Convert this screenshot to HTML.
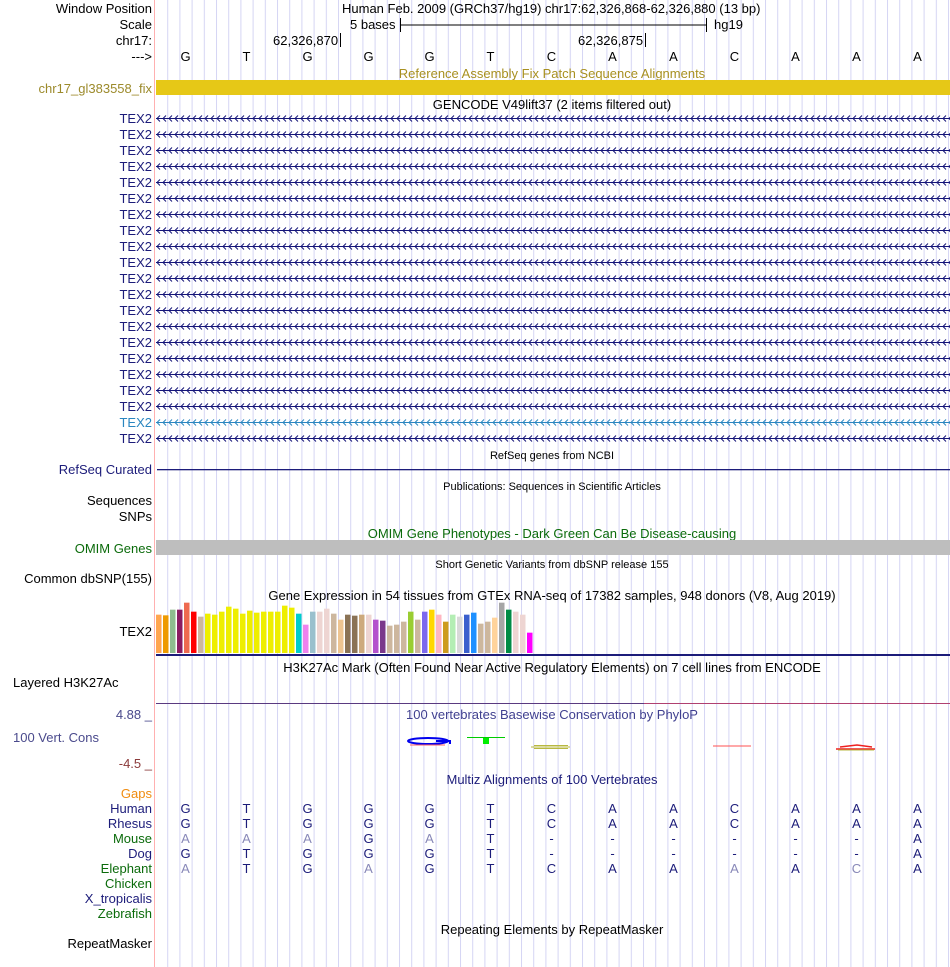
<!DOCTYPE html>
<html><head><meta charset="utf-8"><style>
html,body{margin:0;padding:0;background:#fff;}
svg{display:block;font-family:"Liberation Sans",Arial,sans-serif;}
.l{font-size:13px;text-anchor:end;}
.c{font-size:13px;text-anchor:middle;}
.s{font-size:11px;text-anchor:middle;}
.nv{fill:#1c1c7a;}
.gr{fill:#0b6b0b;}
</style></head><body>
<svg width="950" height="967" viewBox="0 0 950 967" xmlns="http://www.w3.org/2000/svg">
<defs>
<pattern id="grid" x="155" y="0" width="12.2" height="967" patternUnits="userSpaceOnUse">
<rect x="0" y="0" width="1" height="967" fill="#d6d6f4"/>
</pattern>
<pattern id="chev" x="0" y="0" width="6" height="16" patternUnits="userSpaceOnUse">
<path d="M0,6.5H6M4,3.5L1,6.5L4,9.5" stroke="#141478" stroke-width="1" fill="none"/>
</pattern>
<pattern id="chevb" x="0" y="0" width="6" height="16" patternUnits="userSpaceOnUse">
<path d="M0,6.5H6M4,3.5L1,6.5L4,9.5" stroke="#2a86c0" stroke-width="1" fill="none"/>
</pattern>
</defs>
<rect x="156" y="0" width="794" height="967" fill="url(#grid)"/>
<rect x="154" y="0" width="1" height="967" fill="#ffb0b0"/>

<!-- header -->
<text class="l" x="152" y="13">Window Position</text>
<text x="342" y="13" font-size="13">Human Feb. 2009 (GRCh37/hg19)   chr17:62,326,868-62,326,880 (13 bp)</text>
<text class="l" x="152" y="29">Scale</text>
<text x="350" y="29" font-size="13">5 bases</text>
<path d="M400.5,18V32M400,25H706M706.5,18V32" stroke="#000" fill="none"/>
<text x="714" y="29" font-size="13">hg19</text>
<text class="l" x="152" y="45">chr17:</text>
<text x="273" y="45" font-size="13">62,326,870</text>
<path d="M340.5,33V47M645.5,33V47" stroke="#000"/>
<text x="578" y="45" font-size="13">62,326,875</text>
<text class="l" x="152" y="61">---&gt;</text>
<g class="c" font-size="13">
<text x="185.5" y="61">G</text><text x="246.5" y="61">T</text><text x="307.5" y="61">G</text><text x="368.5" y="61">G</text><text x="429.5" y="61">G</text><text x="490.5" y="61">T</text><text x="551.5" y="61">C</text><text x="612.5" y="61">A</text><text x="673.5" y="61">A</text><text x="734.5" y="61">C</text><text x="795.5" y="61">A</text><text x="856.5" y="61">A</text><text x="917.5" y="61">A</text>
</g>
<text class="c" x="552" y="78" fill="#a89020">Reference Assembly Fix Patch Sequence Alignments</text>
<rect x="156" y="80" width="794" height="15" fill="#e6c817"/>
<text class="l" x="152" y="93" fill="#9c8a2b">chr17_gl383558_fix</text>
<text class="c" x="552" y="109">GENCODE V49lift37 (2 items filtered out)</text>

<!-- TEX2 rows -->
<rect x="156" y="112" width="794" height="304" fill="url(#chev)"/>
<rect x="156" y="416" width="794" height="16" fill="url(#chevb)"/>
<rect x="156" y="432" width="794" height="14" fill="url(#chev)"/>
<g class="l nv">
<text x="152" y="123">TEX2</text><text x="152" y="139">TEX2</text><text x="152" y="155">TEX2</text><text x="152" y="171">TEX2</text><text x="152" y="187">TEX2</text><text x="152" y="203">TEX2</text><text x="152" y="219">TEX2</text><text x="152" y="235">TEX2</text><text x="152" y="251">TEX2</text><text x="152" y="267">TEX2</text><text x="152" y="283">TEX2</text><text x="152" y="299">TEX2</text><text x="152" y="315">TEX2</text><text x="152" y="331">TEX2</text><text x="152" y="347">TEX2</text><text x="152" y="363">TEX2</text><text x="152" y="379">TEX2</text><text x="152" y="395">TEX2</text><text x="152" y="411">TEX2</text><text x="152" y="427" fill="#2a86c0">TEX2</text><text x="152" y="443">TEX2</text>
</g>

<text class="s" x="552" y="459">RefSeq genes from NCBI</text>
<text class="l nv" x="152" y="474">RefSeq Curated</text>
<rect x="157" y="469" width="793" height="1.3" fill="#1c1c7a"/>
<text class="s" x="552" y="490">Publications: Sequences in Scientific Articles</text>
<text class="l" x="152" y="505">Sequences</text>
<text class="l" x="152" y="521">SNPs</text>
<text class="c gr" x="552" y="538">OMIM Gene Phenotypes - Dark Green Can Be Disease-causing</text>
<rect x="156" y="540" width="794" height="15" fill="#bebebe"/>
<text class="l gr" x="152" y="553">OMIM Genes</text>
<text class="s" x="552" y="568">Short Genetic Variants from dbSNP release 155</text>
<text class="l" x="152" y="583">Common dbSNP(155)</text>
<text class="c" x="552" y="600">Gene Expression in 54 tissues from GTEx RNA-seq of 17382 samples, 948 donors (V8, Aug 2019)</text>
<text class="l" x="152" y="636">TEX2</text>
<g id="bars"></g>
<rect x="156" y="654" width="794" height="2" fill="#1c1c7a"/>

<text class="c" x="552" y="672">H3K27Ac Mark (Often Found Near Active Regulatory Elements) on 7 cell lines from ENCODE</text>
<text x="13" y="687" font-size="13">Layered H3K27Ac</text>
<rect x="156" y="703" width="488" height="1" fill="#5a3a80"/>
<rect x="644" y="703" width="306" height="1" fill="#b04070"/>
<text class="l" x="152" y="719" fill="#4a4a8c">4.88 _</text>
<text class="c" x="552" y="719" fill="#404090">100 vertebrates Basewise Conservation by PhyloP</text>
<text x="13" y="742" font-size="13" fill="#4a4a8c">100 Vert. Cons</text>
<text class="l" x="152" y="768" fill="#8b3a3a">-4.5 _</text>
<!-- phylop glyphs -->
<ellipse cx="428" cy="741" rx="20" ry="3" fill="none" stroke="#0000ee" stroke-width="2"/>
<path d="M436,741H450V744" stroke="#0000ee" stroke-width="2" fill="none"/>
<path d="M410,745H445" stroke="#ff6060" stroke-width="1"/>
<path d="M467,737.5H505" stroke="#00cc00" stroke-width="1"/>
<rect x="483" y="738" width="6" height="6" fill="#00ee00"/>
<path d="M531,747H570M534,745.5H568M534,748.5H568" stroke="#b8b840" stroke-width="1" fill="none"/>
<path d="M713,746H751" stroke="#ff5050" stroke-width="1"/>
<path d="M836,749H875M840,747L857,745L872,747" stroke="#ee2020" stroke-width="1.5" fill="none"/>
<path d="M838,750H874" stroke="#b8b840" stroke-width="1"/>

<text class="c nv" x="552" y="784">Multiz Alignments of 100 Vertebrates</text>
<text class="l" x="152" y="798" fill="#f08c10">Gaps</text>
<text class="l nv" x="152" y="813">Human</text>
<text class="l nv" x="152" y="828">Rhesus</text>
<text class="l gr" x="152" y="843">Mouse</text>
<text class="l nv" x="152" y="858">Dog</text>
<text class="l gr" x="152" y="873">Elephant</text>
<text class="l gr" x="152" y="888">Chicken</text>
<text class="l nv" x="152" y="903">X_tropicalis</text>
<text class="l gr" x="152" y="918">Zebrafish</text>
<g class="c nv">
<text x="185.5" y="813">G</text><text x="246.5" y="813">T</text><text x="307.5" y="813">G</text><text x="368.5" y="813">G</text><text x="429.5" y="813">G</text><text x="490.5" y="813">T</text><text x="551.5" y="813">C</text><text x="612.5" y="813">A</text><text x="673.5" y="813">A</text><text x="734.5" y="813">C</text><text x="795.5" y="813">A</text><text x="856.5" y="813">A</text><text x="917.5" y="813">A</text>
<text x="185.5" y="828">G</text><text x="246.5" y="828">T</text><text x="307.5" y="828">G</text><text x="368.5" y="828">G</text><text x="429.5" y="828">G</text><text x="490.5" y="828">T</text><text x="551.5" y="828">C</text><text x="612.5" y="828">A</text><text x="673.5" y="828">A</text><text x="734.5" y="828">C</text><text x="795.5" y="828">A</text><text x="856.5" y="828">A</text><text x="917.5" y="828">A</text>
<text x="185.5" y="843" fill="#8888b8">A</text><text x="246.5" y="843" fill="#8888b8">A</text><text x="307.5" y="843" fill="#8888b8">A</text><text x="368.5" y="843">G</text><text x="429.5" y="843" fill="#8888b8">A</text><text x="490.5" y="843">T</text><text x="551.5" y="843">-</text><text x="612.5" y="843">-</text><text x="673.5" y="843">-</text><text x="734.5" y="843">-</text><text x="795.5" y="843">-</text><text x="856.5" y="843">-</text><text x="917.5" y="843">A</text>
<text x="185.5" y="858">G</text><text x="246.5" y="858">T</text><text x="307.5" y="858">G</text><text x="368.5" y="858">G</text><text x="429.5" y="858">G</text><text x="490.5" y="858">T</text><text x="551.5" y="858">-</text><text x="612.5" y="858">-</text><text x="673.5" y="858">-</text><text x="734.5" y="858">-</text><text x="795.5" y="858">-</text><text x="856.5" y="858">-</text><text x="917.5" y="858">A</text>
<text x="185.5" y="873" fill="#8888b8">A</text><text x="246.5" y="873">T</text><text x="307.5" y="873">G</text><text x="368.5" y="873" fill="#8888b8">A</text><text x="429.5" y="873">G</text><text x="490.5" y="873">T</text><text x="551.5" y="873">C</text><text x="612.5" y="873">A</text><text x="673.5" y="873">A</text><text x="734.5" y="873" fill="#8888b8">A</text><text x="795.5" y="873">A</text><text x="856.5" y="873" fill="#8888b8">C</text><text x="917.5" y="873">A</text>
</g>
<text class="c" x="552" y="934">Repeating Elements by RepeatMasker</text>
<text class="l" x="152" y="948">RepeatMasker</text>
</svg>
<script>
var cols=["#ffa54f","#ee9a00","#8fbc8f","#8b1c62","#ee6a50","#ff0000","#cdb79e"];
for(var i=0;i<13;i++)cols.push("#eeee00");
cols=cols.concat(["#00cdcd","#ee82ee","#9ac0cd","#eed5d2","#eed5d2","#cdb79e","#eec591","#8b7355","#8b7355","#cdaa7d","#eed5d2","#b452cd","#7a378b","#cdb79e","#cdb79e","#cdb79e","#9acd32","#cdb79e","#7b68ee","#ffd700","#ffb6c1","#cd9b1d","#b4eeb4","#d9d9d9","#3a5fcd","#1e90ff","#cdb79e","#cdb79e","#ffd39b","#a6a6a6","#008b45","#eed5d2","#eed5d2","#ff00ff"]);
var tops=[60,62,45,45,24,51,66,57,60,51,36,42,57,48,54,51,51,51,33,39,57,90,51,51,42,57,75,60,63,60,60,75,78,93,90,81,51,75,51,45,60,81,60,66,60,54,87,81,69,24,45,51,60,114];
var g=document.getElementById("bars"),s="";
for(var i=0;i<54;i++){var h=(175-tops[i])/3;s+='<rect x="'+(156+i*7)+'" y="'+(653-h)+'" width="5.5" height="'+h+'" fill="'+cols[i]+'"/>';}
g.innerHTML=s;
</script>
</body></html>
